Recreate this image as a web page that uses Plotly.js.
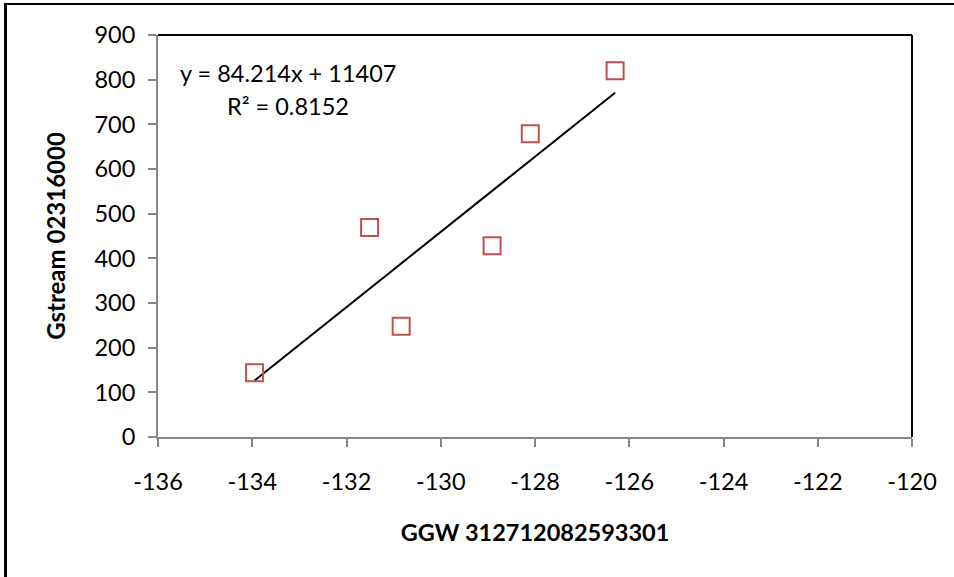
<!DOCTYPE html>
<html>
<head>
<meta charset="utf-8">
<script src="https://cdn.plot.ly/plotly-3.0.1.min.js"></script>
<style>
  html, body { margin: 0; padding: 0; background: #fff; }
  #wrap { position: relative; width: 954px; height: 577px; overflow: hidden; }
  #chart { width: 954px; height: 577px; }
  #frame { position: absolute; left: 4px; top: 3px; width: 960px; height: 600px;
           border-left: 3px solid #000; border-top: 2px solid #000; pointer-events: none; }
</style>
</head>
<body>
<div id="wrap">
  <div id="chart"></div>
  <div id="frame"></div>
</div>
<script>
// Data
const ggw = [-133.95, -131.51, -130.84, -128.91, -128.10, -126.30];
const gstream = [144, 469, 248, 428, 679, 820];
// Printed trendline coefficients
const slope = 84.214;
const intercept = 11407;
const eqText = ["y = 84.214x + 11407", "R\u00b2 = 0.8152"];
const xTicks = [-136, -134, -132, -130, -128, -126, -124, -122, -120];
const yTicks = [0, 100, 200, 300, 400, 500, 600, 700, 800, 900];

const xMin = Math.min(...ggw), xMax = Math.max(...ggw);
const trendX = [xMin, xMax];
const trendY = trendX.map(v => slope * v + intercept);

const font = "Lato, 'Open Sans', sans-serif";
const fs = 23.5;

const traces = [
  {
    x: trendX, y: trendY, type: 'scatter', mode: 'lines',
    line: { color: '#000000', width: 2 }, hoverinfo: 'skip', showlegend: false
  },
  {
    x: ggw, y: gstream, type: 'scatter', mode: 'markers',
    marker: { symbol: 'square-open', size: 17, color: '#C0504D', line: { color: '#C0504D', width: 2 } },
    showlegend: false
  }
];

const layout = {
  width: 954, height: 577,
  margin: { l: 158, r: 42, t: 35, b: 140 },
  paper_bgcolor: '#ffffff', plot_bgcolor: '#ffffff',
  font: { family: font, size: fs, color: '#000' },
  xaxis: {
    range: [-136, -120], tickvals: xTicks, ticktext: xTicks.map(String),
    showgrid: false, zeroline: false,
    showline: true, linecolor: '#868686', linewidth: 2,
    ticks: 'outside', ticklen: 8, tickcolor: '#868686', tickwidth: 2,
    ticklabelstandoff: 15,
    tickfont: { family: font, size: fs, color: '#000' },
    title: { text: '<b>GGW 312712082593301</b>', font: { family: font, size: fs, color: '#000' }, standoff: 30 }
  },
  yaxis: {
    range: [0, 900], tickvals: yTicks, ticktext: yTicks.map(String),
    showgrid: false, zeroline: false,
    showline: true, linecolor: '#868686', linewidth: 2,
    ticks: 'outside', ticklen: 8, tickcolor: '#868686', tickwidth: 2,
    ticklabelstandoff: 8,
    tickfont: { family: font, size: fs, color: '#000' },
    title: { text: '<b>Gstream 02316000</b>', font: { family: font, size: fs + 0.5, color: '#000' }, standoff: 22 }
  },
  shapes: [
    { type: 'line', xref: 'paper', yref: 'paper', x0: 0, x1: 1, y0: 1, y1: 1, line: { color: '#000', width: 2 } },
    { type: 'line', xref: 'paper', yref: 'paper', x0: 1, x1: 1, y0: 0, y1: 1, line: { color: '#000', width: 2 } }
  ],
  annotations: [
    { x: -133.25, y: 814, xref: 'x', yref: 'y', text: eqText[0], showarrow: false,
      font: { family: font, size: fs, color: '#000' } },
    { x: -133.25, y: 742, xref: 'x', yref: 'y', text: eqText[1], showarrow: false,
      font: { family: font, size: fs, color: '#000' } }
  ]
};

Plotly.newPlot('chart', traces, layout, { displayModeBar: false, staticPlot: true });
</script>
</body>
</html>
